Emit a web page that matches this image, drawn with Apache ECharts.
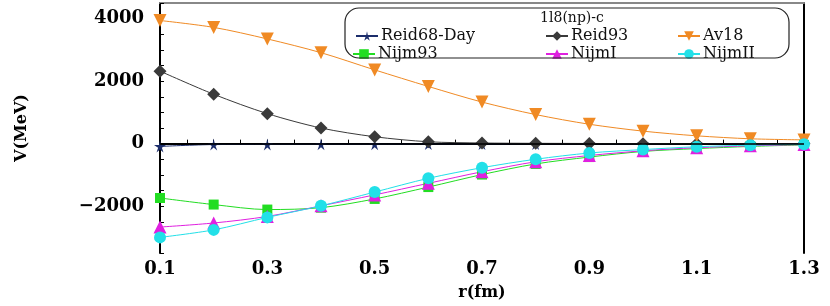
<!DOCTYPE html>
<html><head><meta charset="utf-8">
<script src="https://cdn.jsdelivr.net/npm/echarts@6/dist/echarts.min.js"></script>
<style>html,body{margin:0;padding:0;background:#fff}#c{width:830px;height:306px}</style>
</head><body><div id="c"></div>
<script>
const r = [0.1,0.2,0.3,0.4,0.5,0.6,0.7,0.8,0.9,1.0,1.1,1.2,1.3];
const reid68 = [-90,-30,-25,-20,-20,-15,-15,-10,-10,-10,-5,-5,0];
const reid93 = [2320,1580,960,500,220,60,20,10,5,0,0,0,0];
const av18 = [3940,3720,3350,2910,2360,1830,1330,930,620,400,250,155,120];
const nijm93 = [-1740,-1950,-2110,-2050,-1770,-1390,-990,-650,-430,-250,-160,-90,-40];
const nijmI = [-2670,-2540,-2330,-1990,-1640,-1270,-900,-580,-380,-230,-130,-70,-30];
const nijmII = [-3000,-2760,-2360,-1990,-1550,-1110,-770,-500,-300,-190,-100,-50,-20];
const names = ['Reid68-Day','Reid93','Av18','Nijm93','NijmI','NijmII'];
const legendTitle = '1l8(np)-c';
const xLabels = [0.1,0.3,0.5,0.7,0.9,1.1,1.3];
const yLabels = [-2000,0,2000,4000];

const star = 'path://M50,0 L58,38 98,38 65,60 78,98 50,74 22,98 35,60 2,38 42,38z';
const pair = a => r.map((x,i)=>[x,a[i]]);
const serif = 'DejaVu Serif';

function mk(name, data, color, symbol, size, rot, extra){
  return Object.assign({
    name, type:'line', data:pair(data), smooth:0.3,
    symbol, symbolSize:size, symbolRotate:rot||0,
    lineStyle:{color, width:1}, itemStyle:{color}, z:3
  }, extra||{});
}
const series = [
  mk(names[0], reid68, '#1c2d6b', star, 12, 0, {
    markLine:{silent:true,symbol:'none',label:{show:false},lineStyle:{color:'#000',width:1.5,type:'solid'},data:[{yAxis:0}]}
  }),
  mk(names[1], reid93, '#3a3a3a', 'diamond', 13),
  mk(names[2], av18, '#f08a24', 'triangle', 13, 180),
  mk(names[3], nijm93, '#22dd22', 'rect', 10),
  mk(names[4], nijmI, '#e020e0', 'triangle', 13),
  mk(names[5], nijmII, '#22e0e8', 'circle', 12)
];

const legendPos = [[350,23],[540,23],[672,23],[347,41],[540,41],[672,41]];
const legends = names.map((n,i)=>({
  data:[n], left:legendPos[i][0], top:legendPos[i][1], itemWidth:22, itemHeight:12, itemGap:4,
  textStyle:{fontFamily:serif, fontSize:16, color:'#111', padding:[0,0,0,-2]}
}));

const chart = echarts.init(document.getElementById('c'), null, {renderer:'canvas'});
chart.setOption({
  animation:false,
  backgroundColor:'#fff',
  title:{text:legendTitle, left:567, top:6, textAlign:'center',
    textStyle:{fontFamily:serif, fontSize:14, fontWeight:'normal', color:'#111'}},
  legend: legends,
  grid:{left:160, right:26, top:3, bottom:47},
  xAxis:[{
    type:'value', min:0.1, max:1.3, interval:0.05,
    name:'r(fm)', nameLocation:'middle', nameGap:32,
    nameTextStyle:{fontFamily:serif, fontWeight:'bold', fontSize:16, color:'#000'},
    axisLine:{lineStyle:{color:'#000', width:2}},
    axisTick:{inside:true, length:4, lineStyle:{color:'#000'}},
    splitLine:{show:false},
    axisLabel:{fontFamily:serif, fontWeight:'bold', fontSize:18, color:'#000', margin:7,
      formatter:v=>{const k=Math.round(v*100)/100; return xLabels.some(x=>Math.abs(x-k)<1e-6)? k.toFixed(1):'';}}
  },{
    type:'value', position:'top', min:0.1, max:1.3,
    axisLine:{show:true, onZero:false, lineStyle:{color:'#888', width:2}},
    axisTick:{show:false}, axisLabel:{show:false}, splitLine:{show:false}
  }],
  yAxis:[{
    type:'value', min:-3500, max:4500, interval:500,
    name:'V(MeV)', nameLocation:'middle', nameGap:130,
    nameTextStyle:{fontFamily:serif, fontWeight:'bold', fontSize:16, color:'#000'},
    axisLine:{show:true, onZero:false, lineStyle:{color:'#000', width:2}},
    axisTick:{inside:true, length:4, lineStyle:{color:'#000'}},
    splitLine:{show:false},
    axisLabel:{fontFamily:serif, fontWeight:'bold', fontSize:18, color:'#000', margin:16,
      formatter:v=>yLabels.includes(v)? String(v).replace('-','\u2212'):''}
  },{
    type:'value', position:'right', min:-3500, max:4500,
    axisLine:{show:true, onZero:false, lineStyle:{color:'#000', width:2}},
    axisTick:{show:false}, axisLabel:{show:false}, splitLine:{show:false}
  }],
  graphic:[{type:'rect', shape:{x:345, y:8, width:444, height:50, r:14},
    style:{fill:'none', stroke:'#222', lineWidth:1.2}, z:10}],
  series
});
</script></body></html>
